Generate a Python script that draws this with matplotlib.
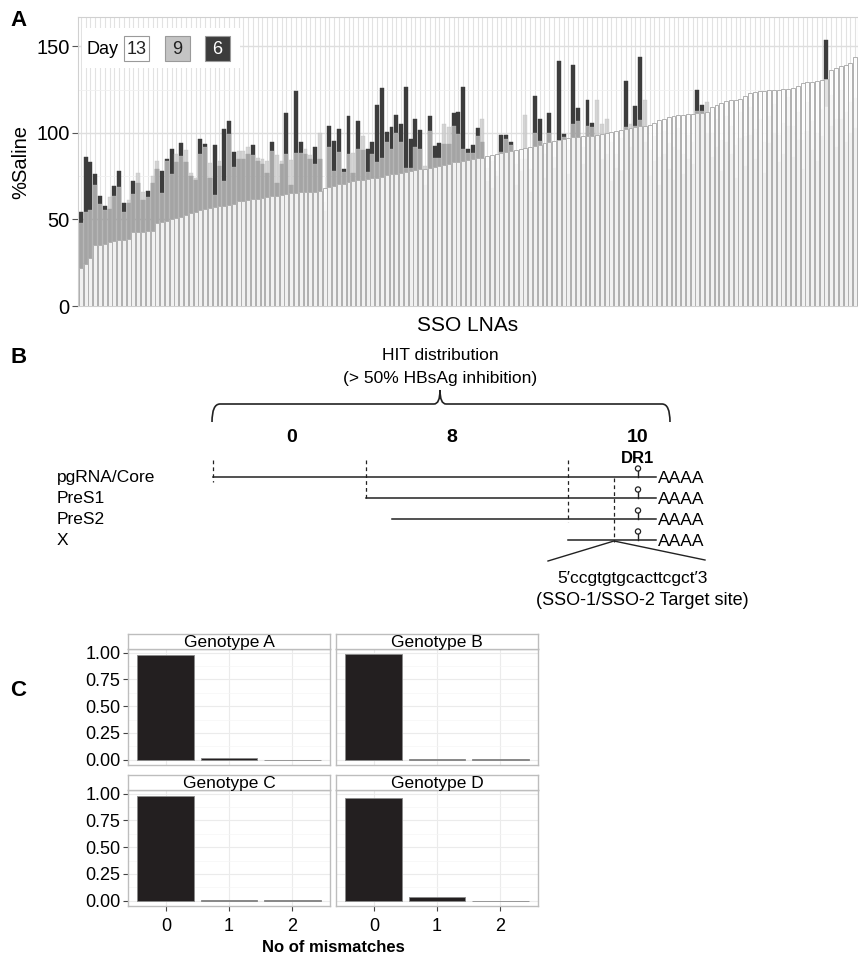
import numpy as np
import matplotlib
matplotlib.use("Agg")
import matplotlib.pyplot as plt
from matplotlib.patches import Rectangle, Circle, PathPatch
from matplotlib.path import Path

plt.rcParams['font.family'] = ['Liberation Sans', 'DejaVu Sans']

# ---------------- Panel A data (sorted by Day 13) ----------------
day13 = [22, 24.5, 27.5, 35, 35.5, 36, 37, 37.5, 38, 38.2, 38.6,
         43, 43, 43, 43.2, 43.5, 48, 48.5, 49, 50, 51,
         51.7, 52.6, 53.6, 54.6, 55.6, 56, 56.6, 57, 57.5, 57.9,
         58.5, 59, 60.4, 60.8, 61.4, 61.8, 62, 62.4, 63, 63.4,
         63.7, 64, 64.7, 65.3, 65.3, 65.7, 65.8, 66, 66, 66.3,
         68, 69, 69.6, 70.5, 70.7, 71.4, 72, 72.6, 73, 73.3,
         73.7, 74, 74.8, 75.7, 76, 76.5, 77, 77.5, 78, 78.5,
         79, 79.3, 80, 80.5, 81, 81.5, 82, 83, 83.4, 83.8,
         84.2, 84.8, 85.3, 85.8, 86.6, 87.2, 87.7, 88.3, 89, 89.5,
         90.2, 90.7, 91.4, 92, 92.7, 93.3, 94, 94.5, 95.4, 95.8,
         96.3, 96.8, 97.4, 97.8, 98, 98.3, 98.5, 99, 99.5, 100,
         100.5, 101, 101.5, 102, 102.6, 103.2, 103.8, 104.3, 104.7, 105.5,
         107.6, 108.2, 109, 110, 110.3, 110.6, 110.8, 111, 111.3, 111.6,
         112, 115, 116, 117.5, 118.4, 118.8, 119.2, 119.6, 121.5, 122.8,
         123.5, 124.2, 124.4, 124.6, 124.8, 124.8, 125.2, 125.6, 126.2, 127,
         128.7, 129.2, 129.6, 130, 130.6, 131, 136.5, 137.5, 138.4, 139.4,
         140.2, 144]

day9 = [48, 54.6, 55.6, 70, 59, 55.6, 62.8, 63.4, 69, 54.6, 61,
        65, 77, 66, 63, 75, 83.6, 65.5, 84, 76, 87.8,
        86.8, 90, 76.6, 73.7, 88, 92, 82.5, 64, 84, 72,
        99.5, 80.5, 89.7, 89.7, 92, 87, 85.8, 84.8, 83.5, 89.3,
        87, 84, 87.8, 84.4, 88.7, 88.7, 90.7, 87, 82, 99.8,
        60, 92, 78, 89, 77.4, 87.8, 88.7, 91, 98.5, 77.4,
        87.8, 83, 85.8, 94.6, 90.7, 100, 94.6, 80, 80, 92,
        90.7, 81, 101.4, 85.4, 85.4, 104.9, 103.7, 104.3, 99.5, 90.7,
        88.7, 88.3, 98, 108, 80, 84, 78, 89, 96.5, 93,
        82, 85, 110.6, 79, 100, 95.5, 88, 100, 86, 95.5,
        97.7, 90, 105.3, 107, 92, 104.3, 103.4, 119, 105.3, 108,
        95, 88, 97, 103.5, 105.3, 104, 107.2, 119, 90, 98,
        86, 101, 94, 92, 103, 88, 99, 95, 112.5, 112.5,
        118, 100, 108, 96, 110, 104, 93, 112, 98, 115,
        102, 108, 95, 110, 117, 99, 106, 121, 104, 112,
        96, 118, 107, 100, 114, 115, 122, 108, 125, 112,
        118, 120]

day6 = [54.6, 86, 83, 76.5, 63.8, 58, 56, 69.6, 77.8, 59.7, 59.7,
        72, 70.8, 61, 66.3, 71, 79, 78, 85, 90.7, 83,
        94, 83, 75, 73, 96.5, 93.6, 74, 93, 81, 102,
        107, 89, 85, 85, 88, 93, 84, 82, 77, 94.6,
        71, 82, 111.7, 70, 124, 95, 88, 85, 91.6, 84.8,
        55, 104, 95.4, 102, 79.4, 110, 77, 106.7, 90, 90.7,
        95, 116, 126, 100.8, 103.7, 110.6, 105.3, 126.8, 96.5, 108,
        101.8, 70, 110, 92.6, 94, 93.6, 93.6, 111.7, 112, 126.8,
        91, 93, 103, 95, 72, 68, 75, 98.8, 98.8, 94.6,
        70, 78, 85, 66, 121.5, 108, 74, 111.7, 80, 141.7,
        99.5, 76, 139, 114.5, 82, 119, 106, 90, 85, 88,
        72, 80, 78, 130, 92, 115.4, 143.7, 95, 75, 84,
        70, 88, 79, 73, 90, 76, 85, 82, 124.8, 116,
        100, 86, 92, 78, 95, 88, 74, 97, 81, 99,
        85, 90, 77, 94, 100, 83, 88, 104, 86, 96,
        79, 101, 90, 84, 98, 153.5, 104, 92, 108, 95,
        100, 103]

a_yticks = [0, 50, 100, 150]
legend_days = ['13', '9', '6']

# ---------------- Panel C data ----------------
genotypes = ['Genotype A', 'Genotype B', 'Genotype C', 'Genotype D']
mismatches = [0, 1, 2]
fractions = {
    'Genotype A': [0.980, 0.020, 0.000],
    'Genotype B': [0.987, 0.008, 0.003],
    'Genotype C': [0.982, 0.008, 0.003],
    'Genotype D': [0.962, 0.032, 0.000],
}
c_yticks = [0.0, 0.25, 0.5, 0.75, 1.0]

W, H = 858, 955
fig = plt.figure(figsize=(W / 100, H / 100), dpi=100)


def fx(px):
    return px / W


def fy(py):
    return 1 - py / H


# ---------------- Panel A ----------------
axA = fig.add_axes([fx(78), fy(306), fx(858) - fx(78), fy(17) - fy(306)])
n = len(day13)
x = np.arange(n)
axA.bar(x, day6, width=0.82, color='#3c3c3c', edgecolor='#3c3c3c', linewidth=0.3, zorder=2)
axA.bar(x, day9, width=0.82, color='#c8c8c8', alpha=0.75, edgecolor='#bdbdbd', linewidth=0.3, zorder=3)
axA.bar(x, day13, width=0.82, facecolor=(1, 1, 1, 0.85), edgecolor='#b0b0b0', linewidth=0.7, zorder=4)
axA.set_xlim(-0.6, n - 0.4)
axA.set_ylim(0, 167)
axA.set_xticks(x)
axA.set_xticklabels([])
axA.tick_params(axis='x', length=0)
axA.set_yticks(a_yticks)
axA.set_yticks([25, 75, 125], minor=True)
axA.tick_params(axis='y', which='major', labelsize=14.5, length=4, color='#555555', pad=2)
axA.tick_params(axis='y', which='minor', length=0)
axA.grid(True, axis='x', color='#e2e2e2', linewidth=0.8, zorder=0)
axA.grid(True, axis='y', which='major', color='#dedede', linewidth=1.0, zorder=0)
axA.grid(True, axis='y', which='minor', color='#f0f0f0', linewidth=0.6, zorder=0)
axA.set_axisbelow(True)
for s in axA.spines.values():
    s.set_color('#d0d0d0')
    s.set_linewidth(0.8)
axA.set_ylabel('%Saline', fontsize=14.5, labelpad=4)
axA.set_xlabel('SSO LNAs', fontsize=15, labelpad=4)

# ---------------- Panel C ----------------
c_pos = {
    'Genotype A': (128, 649),
    'Genotype B': (336, 649),
    'Genotype C': (128, 790),
    'Genotype D': (336, 790),
}
pw, ph = 202, 116
for g in genotypes:
    x0, y0 = c_pos[g]
    ax = fig.add_axes([fx(x0), fy(y0 + ph), fx(pw), ph / H])
    ax.bar(mismatches, fractions[g], width=0.9, color='#231f20', edgecolor='#8a8a8a', linewidth=0.6, zorder=3)
    ax.set_xlim(-0.6, 2.6)
    ax.set_ylim(-0.049, 1.034)
    ax.set_xticks(mismatches)
    ax.set_yticks(c_yticks)
    ax.set_yticks([0.125, 0.375, 0.625, 0.875], minor=True)
    ax.grid(True, which='major', color='#ebebeb', linewidth=0.8, zorder=0)
    ax.grid(True, which='minor', axis='y', color='#f5f5f5', linewidth=0.5, zorder=0)
    ax.set_axisbelow(True)
    for s in ax.spines.values():
        s.set_color('#bdbdbd')
        s.set_linewidth(1.0)
    ax.tick_params(which='major', length=3.5, color='#444444', labelsize=13, pad=2)
    ax.tick_params(which='minor', length=0)
    if g in ('Genotype A', 'Genotype C'):
        ax.set_yticklabels(['0.00', '0.25', '0.50', '0.75', '1.00'])
    else:
        ax.tick_params(axis='y', labelleft=False, length=0)
    if g in ('Genotype C', 'Genotype D'):
        ax.set_xticklabels([str(m) for m in mismatches])
        ax.tick_params(axis='x', pad=5)
    else:
        ax.tick_params(axis='x', labelbottom=False, length=0)
    # strip
    sax = fig.add_axes([fx(x0), fy(y0), fx(pw), 15 / H])
    sax.set_xticks([])
    sax.set_yticks([])
    sax.set_facecolor('white')
    for s in sax.spines.values():
        s.set_color('#bdbdbd')
        s.set_linewidth(1.0)
    sax.text(0.5, 0.45, g, ha='center', va='center', fontsize=12.5, transform=sax.transAxes)

# ---------------- Overlay: labels, legend, panel B ----------------
ov = fig.add_axes([0, 0, 1, 1], zorder=10)
ov.set_xlim(0, W)
ov.set_ylim(H, 0)
ov.axis('off')

for lab, (lx, ly) in {'A': (10, 20), 'B': (10, 357), 'C': (10, 690)}.items():
    ov.text(lx, ly, lab, fontsize=16, fontweight='bold', ha='left', va='center')

# legend of panel A
ov.add_patch(Rectangle((82, 28), 158, 40, facecolor='white', edgecolor='none'))
ov.text(87, 49, 'Day', fontsize=13, ha='left', va='center')
leg_fc = ['white', '#c4c4c4', '#3c3c3c']
leg_tc = ['#222222', '#222222', 'white']
for i, (lbl, fc, tc) in enumerate(zip(legend_days, leg_fc, leg_tc)):
    bx = 124 + i * 40.5
    ov.add_patch(Rectangle((bx, 36), 25, 25, facecolor=fc, edgecolor='#9a9a9a', linewidth=0.8))
    ov.text(bx + 12.5, 49, lbl, fontsize=13, ha='center', va='center', color=tc)

# panel B schematic
ov.text(440, 355, 'HIT distribution', fontsize=12.5, ha='center', va='center')
ov.text(440, 378, '(> 50% HBsAg inhibition)', fontsize=12.5, ha='center', va='center')

# brace
L, R, yb, ye, cx, cy = 212, 670, 404, 422, 440, 390
verts = [(L, ye), (L, yb), (L + 8, yb),
         (cx - 6, yb), (cx, yb), (cx, cy),
         (cx, yb), (cx + 6, yb),
         (R - 8, yb), (R, yb), (R, ye)]
codes = [Path.MOVETO, Path.CURVE3, Path.CURVE3,
         Path.LINETO, Path.CURVE3, Path.CURVE3,
         Path.CURVE3, Path.CURVE3,
         Path.LINETO, Path.CURVE3, Path.CURVE3]
ov.add_patch(PathPatch(Path(verts, codes), facecolor='none', edgecolor='#222222', linewidth=1.2))

hits = [('0', 292), ('8', 452), ('10', 638)]
for t, hx in hits:
    ov.text(hx, 437, t, fontsize=14, fontweight='bold', ha='center', va='center')
ov.text(637, 458, 'DR1', fontsize=12, fontweight='bold', ha='center', va='center')

transcripts = ['pgRNA/Core', 'PreS1', 'PreS2', 'X']
t_start = [213, 366, 392, 568]
t_y = [477, 498, 519, 540]
line_end = 656
for name, xs, yy in zip(transcripts, t_start, t_y):
    ov.text(57, yy, name, fontsize=12.5, ha='left', va='center')
    ov.plot([xs, line_end], [yy, yy], color='#222222', linewidth=1.1)
    ov.plot([638, 638], [yy, yy - 6], color='#222222', linewidth=1.0)
    ov.add_patch(Circle((638, yy - 8.5), 2.6, facecolor='white', edgecolor='#222222', linewidth=0.9))
    ov.text(658, yy + 1, 'AAAA', fontsize=12.5, ha='left', va='center')

for dx, y0, y1 in [(213, 460, 482), (366, 460, 500), (568, 460, 522), (614, 478, 542)]:
    ov.plot([dx, dx], [y0, y1], color='#222222', linewidth=0.9, linestyle=(0, (3, 2.5)))

ov.plot([548, 614, 705], [561, 541, 560], color='#222222', linewidth=1.0)
ov.text(632, 578, "5\u2032ccgtgtgcacttcgct\u20323", fontsize=12.5, ha='center', va='center')
ov.text(642, 600, '(SSO-1/SSO-2 Target site)', fontsize=13, ha='center', va='center')

ov.text(333, 947, 'No of mismatches', fontsize=12, fontweight='bold', ha='center', va='center')

fig.savefig('out.png', dpi=100)
